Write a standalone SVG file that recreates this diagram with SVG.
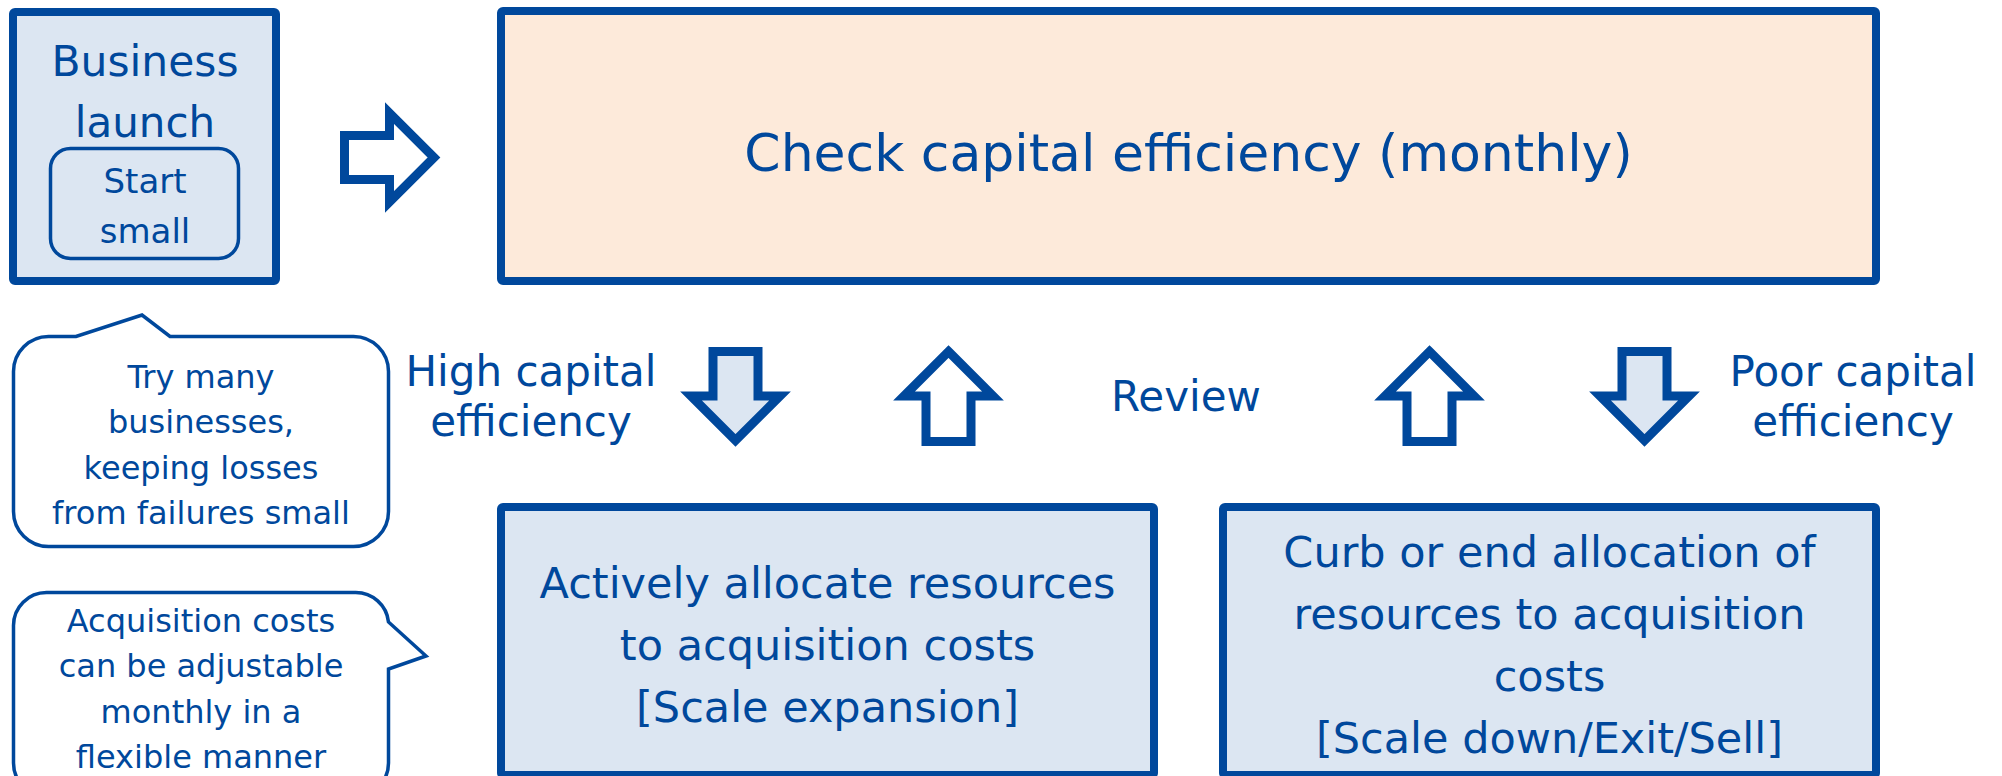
<svg xmlns="http://www.w3.org/2000/svg" width="2002" height="776" viewBox="0 0 2002 776">
<style>
.t{font-family:"DejaVu Sans","Verdana",sans-serif;fill:#00489C;text-anchor:middle}
.box{stroke:#00489C;stroke-width:8;stroke-linejoin:round}
.lb{fill:#DCE6F2}
.arrow{stroke:#00489C;stroke-width:9;stroke-linejoin:miter;stroke-miterlimit:10}
.bub{fill:#FFFFFF;stroke:#00489C;stroke-width:3.5}
</style>
<rect width="2002" height="776" fill="#FFFFFF"/>
<g id="business-launch">
<rect class="box lb" x="13" y="12" width="263" height="269" rx="2"/>
<text class="t" x="145" y="76" font-size="42" textLength="187" lengthAdjust="spacingAndGlyphs">Business</text>
<text class="t" x="145" y="137" font-size="42">launch</text>
<rect x="50.5" y="148.5" width="188" height="110" rx="20" fill="none" stroke="#00489C" stroke-width="3.5"/>
<text class="t" x="145" y="193" font-size="34">Start</text>
<text class="t" x="145" y="243" font-size="34">small</text>
</g>
<g id="check-capital">
<rect class="box" x="501" y="11" width="1375" height="270" rx="2" fill="#FDEADA"/>
<text class="t" x="1188.5" y="171" font-size="52">Check capital efficiency (monthly)</text>
</g>
<g id="scale-expansion">
<rect class="box lb" x="501" y="507" width="653" height="268" rx="2"/>
<text class="t" x="827.5" y="598" font-size="43">Actively allocate resources</text>
<text class="t" x="827.5" y="660" font-size="43">to acquisition costs</text>
<text class="t" x="827.5" y="722" font-size="43">[Scale expansion]</text>
</g>
<g id="scale-down">
<rect class="box lb" x="1223" y="507" width="653" height="268" rx="2"/>
<text class="t" x="1549.5" y="567" font-size="43">Curb or end allocation of</text>
<text class="t" x="1549.5" y="629" font-size="43">resources to acquisition</text>
<text class="t" x="1549.5" y="691" font-size="43">costs</text>
<text class="t" x="1549.5" y="753" font-size="43">[Scale down/Exit/Sell]</text>
</g>
<g id="note-try-many">
<path class="bub" d="M48.5,336.5 H76 L142,315 L170,336.5 H353.5 A35,35 0 0 1 388.5,371.5 V511.5 A35,35 0 0 1 353.5,546.5 H48.5 A35,35 0 0 1 13.5,511.5 V371.5 A35,35 0 0 1 48.5,336.5 Z"/>
<text class="t" x="201" y="388" font-size="32">Try many</text>
<text class="t" x="201" y="433" font-size="32">businesses,</text>
<text class="t" x="201" y="479" font-size="32">keeping losses</text>
<text class="t" x="201" y="524" font-size="32">from failures small</text>
</g>
<g id="note-acquisition">
<path class="bub" d="M46.5,592.5 H355.5 A33,33 0 0 1 388.5,622 L426,656 L388.5,669 V763 A33,33 0 0 1 355.5,796 H46.5 A33,33 0 0 1 13.5,763 V625.5 A33,33 0 0 1 46.5,592.5 Z"/>
<text class="t" x="201" y="632" font-size="32">Acquisition costs</text>
<text class="t" x="201" y="677" font-size="32">can be adjustable</text>
<text class="t" x="201" y="723" font-size="32">monthly in a</text>
<text class="t" x="201" y="768" font-size="32">flexible manner</text>
</g>
<g id="labels">
<text class="t" x="531" y="386" font-size="42">High capital</text>
<text class="t" x="531" y="436" font-size="42">efficiency</text>
<text class="t" x="1186" y="411" font-size="42">Review</text>
<text class="t" x="1853" y="386" font-size="42">Poor capital</text>
<text class="t" x="1853" y="436" font-size="42">efficiency</text>
</g>
<g id="connectors">
<polygon class="arrow" fill="#FFFFFF" points="344.5,135.5 389.5,135.5 389.5,113 434,157.5 389.5,202 389.5,179.5 344.5,179.5"/>
<polygon class="arrow" fill="#DCE6F2" points="713,351.5 758,351.5 758,396 780,396 735.5,440.5 691,396 713,396"/>
<polygon class="arrow" fill="#FFFFFF" points="948.5,351.5 993,396 971,396 971,441.5 926,441.5 926,396 904,396"/>
<polygon class="arrow" fill="#FFFFFF" points="1429.5,351.5 1474,396 1452,396 1452,441.5 1407,441.5 1407,396 1385,396"/>
<polygon class="arrow" fill="#DCE6F2" points="1622,351.5 1667,351.5 1667,396 1689,396 1644.5,440.5 1600,396 1622,396"/>
</g>
</svg>
